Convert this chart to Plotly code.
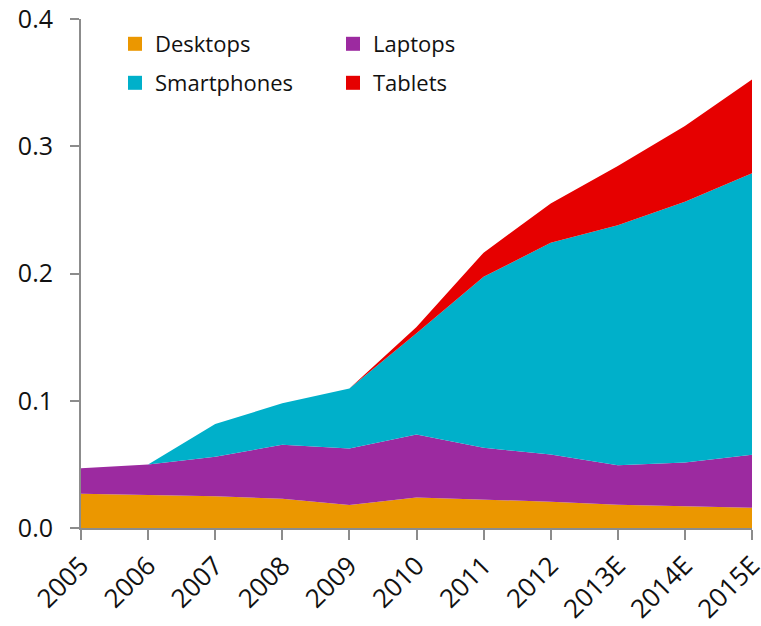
import plotly.graph_objects as go

# Categories and series values (stacked shares)
years = ["2005", "2006", "2007", "2008", "2009", "2010",
         "2011", "2012", "2013E", "2014E", "2015E"]
desktops = [0.027, 0.026, 0.025, 0.023, 0.018, 0.024, 0.0225, 0.0207, 0.0183, 0.017, 0.016]
laptops = [0.020, 0.024, 0.031, 0.0425, 0.0444, 0.0495, 0.0405, 0.037, 0.031, 0.0344, 0.0415]
smartphones = [0.0, 0.0, 0.0258, 0.0325, 0.0472, 0.0795, 0.1344, 0.1664, 0.1887, 0.205, 0.2212]
tablets = [0.0, 0.0, 0.0, 0.0, 0.0, 0.005, 0.019, 0.031, 0.0465, 0.0596, 0.0737]
y_ticks = [0.0, 0.1, 0.2, 0.3, 0.4]
y_tick_labels = ["0.0", "0.1", "0.2", "0.3", "0.4"]

series = [
    ("Desktops", desktops, "#EB9700", "legend"),
    ("Laptops", laptops, "#9C2AA0", "legend"),
    ("Smartphones", smartphones, "#00B0CA", "legend2"),
    ("Tablets", tablets, "#E60000", "legend2"),
]

FONT = "Open Sans"
AXIS_GREY = "#8c8c8c"
W, H = 761, 626
M_L, M_R, M_T, M_B = 81, 9, 19, 98
PLOT_H = H - M_T - M_B


def paper_y(py):
    return (H - M_B - py) / PLOT_H


def paper_x(px):
    return (px - M_L) / (W - M_L - M_R)


fig = go.Figure()

# Stacked areas
for name, vals, color, _ in series:
    fig.add_trace(go.Scatter(
        x=years, y=vals, name=name, mode="lines",
        stackgroup="one", line=dict(width=0, color=color),
        fillcolor=color, showlegend=False, hoverinfo="x+y+name",
    ))

# Square legend keys
for name, _, color, leg in series:
    fig.add_trace(go.Scatter(
        x=[None], y=[None], name=name, mode="markers",
        marker=dict(symbol="square", size=14, color=color),
        legend=leg, showlegend=True,
    ))

legend_common = dict(
    orientation="h", traceorder="normal",
    xanchor="left", yanchor="middle",
    font=dict(family=FONT, size=22, color="#111111"),
    bgcolor="rgba(0,0,0,0)", borderwidth=0,
    entrywidth=173, entrywidthmode="pixels",
    itemclick=False, itemdoubleclick=False,
)

fig.update_layout(
    width=W, height=H,
    margin=dict(l=M_L, r=M_R, t=M_T, b=M_B, pad=0, autoexpand=False),
    paper_bgcolor="white", plot_bgcolor="white",
    font=dict(family=FONT, color="#111111"),
    legend=dict(x=paper_x(115), y=paper_y(44), **legend_common),
    legend2=dict(x=paper_x(115), y=paper_y(83), **legend_common),
    xaxis=dict(
        type="category", range=[0, len(years) - 1],
        showgrid=False, zeroline=False,
        showline=True, linecolor=AXIS_GREY, linewidth=2,
        ticks="outside", ticklen=10, tickwidth=2, tickcolor=AXIS_GREY,
        tickangle=-45, tickfont=dict(family=FONT, size=26, color="#111111"),
    ),
    yaxis=dict(
        range=[0, 0.40001], tickvals=y_ticks, ticktext=y_tick_labels,
        showgrid=False, zeroline=False,
        showline=True, linecolor=AXIS_GREY, linewidth=2,
        ticks="outside", ticklen=9, tickwidth=2, tickcolor=AXIS_GREY,
        ticklabelstandoff=12, ticklabeloverflow="allow",
        tickfont=dict(family=FONT, size=25, color="#111111"),
    ),
)

fig.write_html("out.html")
